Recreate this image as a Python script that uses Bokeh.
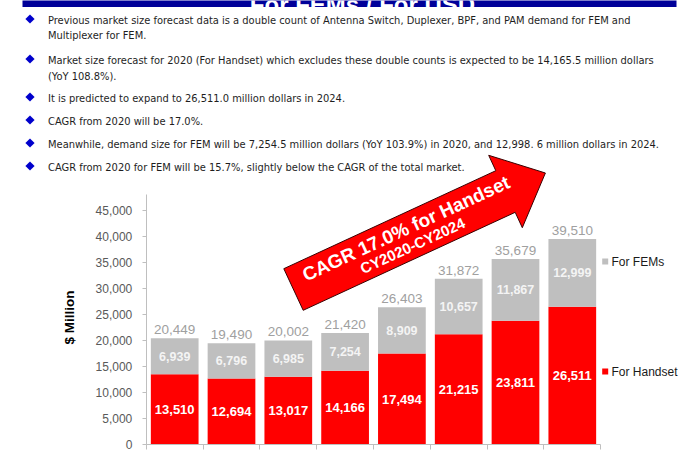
from bokeh.plotting import figure
from bokeh.models import (ColumnDataSource, Range1d, LinearAxis, FixedTicker, Label,
                          NumeralTickFormatter)
from bokeh.core.properties import value
from bokeh.embed import file_html
from bokeh.resources import INLINE

# ---------------- data ----------------
categories = ["CY2017", "CY2018", "CY2019", "CY2020", "CY2021", "CY2022", "CY2023", "CY2024"]
handset = [13510, 12694, 13017, 14166, 17494, 21215, 23811, 26511]
fems = [6939, 6796, 6985, 7254, 8909, 10657, 11867, 12999]
totals = [20449, 19490, 20002, 21420, 26403, 31872, 35679, 39510]
y_ticks = [0, 5000, 10000, 15000, 20000, 25000, 30000, 35000, 40000, 45000]
series_names = ["For Handset", "For FEMs"]
page_title = "For FEMs / For USD"
bullet_lines = [
    (True, "Previous market size forecast data is a double count of Antenna Switch, Duplexer, BPF, and PAM demand for FEM and"),
    (False, "Multiplexer for FEM."),
    (True, "Market size forecast for 2020 (For Handset) which excludes these double counts is expected to be 14,165.5 million dollars"),
    (False, "(YoY 108.8%)."),
    (True, "It is predicted to expand to 26,511.0 million dollars in 2024."),
    (True, "CAGR from 2020 will be 17.0%."),
    (True, "Meanwhile, demand size for FEM will be 7,254.5 million dollars (YoY 103.9%) in 2020, and 12,998. 6 million dollars in 2024."),
    (True, "CAGR from 2020 for FEM will be 15.7%, slightly below the CAGR of the total market."),
]
arrow_text = ["CAGR 17.0% for Handset", "CY2020-CY2024"]

# ---------------- layout ----------------
W, H = 700, 461
X0_PX = 145.8          # pixel of the left category boundary
PX_PER_CAT = 56.8
Y0_PX = 444.0          # pixel of value 0
PX_PER_UNIT = 0.0052

x_start = -0.5 - X0_PX / PX_PER_CAT
x_end = x_start + W / PX_PER_CAT
y_start = -(H - Y0_PX) / PX_PER_UNIT
y_end = y_start + H / PX_PER_UNIT


def dx(px):
    return x_start + px / PX_PER_CAT


def dy(py):
    return y_start + (H - py) / PX_PER_UNIT


def sx(px):
    return px


def sy(py):
    return H - py


FONT = "Liberation Sans"
NARROW = "DejaVu Sans Condensed, Liberation Sans"

p = figure(width=W, height=H, output_backend="svg", toolbar_location=None,
           x_range=Range1d(x_start, x_end), y_range=Range1d(y_start, y_end),
           x_axis_location=None, y_axis_location=None, min_border=0,
           outline_line_color=None, background_fill_color="white", border_fill_color="white")
p.xgrid.visible = False
p.ygrid.visible = False

# ---------------- title banner (cut at top) ----------------
p.quad(left=[dx(22)], right=[dx(676)], top=[dy(-10)], bottom=[dy(6.5)],
       fill_color="#000099", line_color=None)
p.add_layout(Label(x=sx(362), y=sy(4), x_units="screen", y_units="screen", text=page_title,
                   text_align="center", text_baseline="alphabetic", text_font=FONT,
                   text_font_style="bold", text_font_size="24px", text_color="white"))

# ---------------- bars ----------------
xs = list(range(len(categories)))
src = ColumnDataSource(dict(
    x=xs, handset=handset, fems=fems,
    hmid=[h / 2 for h in handset],
    fmid=[h + f / 2 for h, f in zip(handset, fems)],
    top=[h + f for h, f in zip(handset, fems)],
    hlab=[f"{v:,}" for v in handset],
    flab=[f"{v:,}" for v in fems],
    tlab=[f"{v:,}" for v in totals],
))
p.vbar_stack(["handset", "fems"], x="x", width=0.84, color=["#FF0000", "#BFBFBF"],
             line_color=None, source=src)

p.text(x="x", y="hmid", text="hlab", source=src, text_color="white", text_font_style="bold",
       text_font_size="13px", text_align="center", text_baseline="middle", text_font=value(FONT))
p.text(x="x", y="fmid", text="flab", source=src, text_color="#F4F4F4", text_font_style="bold",
       text_font_size="12.5px", text_align="center", text_baseline="middle", text_font=value(FONT))
p.text(x="x", y="top", text="tlab", source=src, text_color="#A0A0A0",
       text_font_size="13.5px", text_align="center", text_baseline="bottom", y_offset=-4,
       text_font=value(FONT))

# ---------------- axes ----------------
yaxis = LinearAxis(fixed_location=-0.5, ticker=FixedTicker(ticks=y_ticks), bounds=(0, 48000),
                   formatter=NumeralTickFormatter(format="0,0"),
                   axis_line_color="#BFBFBF", major_tick_line_color="#BFBFBF",
                   major_tick_out=4, major_tick_in=0, minor_tick_out=0, minor_tick_in=0,
                   major_label_standoff=10, major_label_text_font=FONT,
                   major_label_text_font_size="12px", major_label_text_color="#595959")
p.add_layout(yaxis, "left")

boundaries = [i - 0.5 for i in range(len(categories) + 1)]
xaxis_ticks = LinearAxis(fixed_location=0, ticker=FixedTicker(ticks=boundaries),
                         bounds=(-0.5, len(categories) - 0.5),
                         major_label_overrides={b: "" for b in boundaries},
                         axis_line_color="#BFBFBF", major_tick_line_color="#BFBFBF",
                         major_tick_out=5, major_tick_in=0, minor_tick_out=0, minor_tick_in=0)
p.add_layout(xaxis_ticks, "below")
xaxis_labels = LinearAxis(fixed_location=0, ticker=FixedTicker(ticks=xs),
                          major_label_overrides={i: c for i, c in enumerate(categories)},
                          axis_line_color=None, major_tick_line_color=None,
                          minor_tick_line_color=None, major_label_standoff=11,
                          major_label_text_font=FONT, major_label_text_font_size="12px",
                          major_label_text_color="#595959")
p.add_layout(xaxis_labels, "below")

p.add_layout(Label(x=sx(69), y=sy(317), x_units="screen", y_units="screen", text="$ Million",
                   angle=90, angle_units="deg", text_align="center", text_baseline="middle",
                   text_font=FONT, text_font_style="bold", text_font_size="13.5px",
                   text_color="black"))

# ---------------- legend (drawn beside the last bar) ----------------
leg_y_px = [371, 261]
p.scatter(x=[dx(604.7)] * 2, y=[dy(v) for v in leg_y_px], marker="square", size=6,
          color=["#FF0000", "#BFBFBF"], line_color=None)
p.text(x=[dx(611)] * 2, y=[dy(v) for v in leg_y_px], text=series_names, text_color="#1A1A1A",
       text_font_size="12px", text_baseline="middle", text_font=value(FONT))

# ---------------- arrow ----------------
arrow_px = [(283.3, 268.2), (495.3, 170.2), (488.2, 154.8), (544.9, 172.5),
            (521.8, 227.2), (514.7, 211.8), (302.7, 309.8)]
p.patch(x=[dx(a) for a, b in arrow_px], y=[dy(b) for a, b in arrow_px],
        fill_color="#FF0000", line_color="#3A0000", line_width=1)
p.add_layout(Label(x=sx(405.5), y=sy(228), x_units="screen", y_units="screen", text=arrow_text[0],
                   angle=24.8, angle_units="deg", text_align="center", text_baseline="middle",
                   text_font=FONT, text_font_style="bold", text_font_size="19px", text_color="white"))
p.add_layout(Label(x=sx(412), y=sy(245), x_units="screen", y_units="screen", text=arrow_text[1],
                   angle=24.8, angle_units="deg", text_align="center", text_baseline="middle",
                   text_font=FONT, text_font_style="bold", text_font_size="15px", text_color="white"))

# ---------------- bullets ----------------
line_y = [20, 35, 60, 76, 98, 121, 144, 167]
bx, by = [], []
for (has_bullet, txt), ly in zip(bullet_lines, line_y):
    p.add_layout(Label(x=sx(47.5), y=sy(ly), x_units="screen", y_units="screen", text=txt,
                       text_baseline="middle", text_font=NARROW, text_font_size="11px",
                       text_color="#1E1E1E"))
    if has_bullet:
        bx.append(dx(29.5))
        by.append(dy(ly - 1.5))
p.scatter(x=bx, y=by, marker="square", angle=0.785, size=6.5, color="#0000CC", line_color=None)

open("out.html", "w").write(file_html(p, INLINE))
